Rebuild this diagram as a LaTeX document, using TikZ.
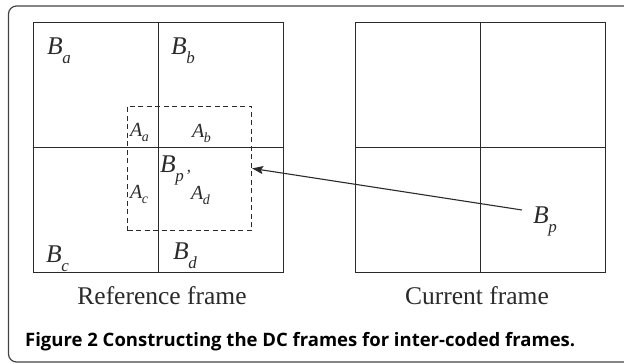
\documentclass[tikz,border=0pt]{standalone}
\usepackage{fontspec}
\setmainfont{Liberation Serif}
\newfontfamily\capfont{Open Sans}
\usetikzlibrary{arrows.meta}

\definecolor{ink}{HTML}{2A2A2A}
\definecolor{rim}{HTML}{444444}

% big block label: B with a lowered subscript
\newcommand\blk[2]{{\fontsize{25.5}{25.5}\selectfont\itshape #1\kern-0.5pt\raisebox{-9pt}{\fontsize{17}{17}\selectfont #2}}}
% smaller area label: A with a lowered subscript
\newcommand\area[2]{{\fontsize{20}{20}\selectfont\itshape #1\kern-0.5pt\raisebox{-5pt}{\fontsize{14}{14}\selectfont #2}}}

\begin{document}
\begin{tikzpicture}[x=1pt,y=-1pt,
  every node/.style={text=ink},
  lbl/.style={anchor=base west, inner sep=0pt},
  frame/.style={draw=ink, line width=1.3pt, inner sep=0pt},
  grid/.style={draw=ink, line width=1.3pt},
  window/.style={draw=ink, line width=1.1pt, dash pattern=on 5pt off 3.5pt, inner sep=0pt,
                 minimum width=124pt, minimum height=124.7pt},
  framecap/.style={anchor=base, inner sep=0pt, font=\fontsize{25.5}{25.5}\selectfont},
]
\useasboundingbox (0,0) rectangle (624,364);

% outer panel
\draw[rim, line width=1.2pt, rounded corners=8pt] (624,6) -- (8.5,6) -- (8.5,362) -- (624,362);

% reference frame with its four blocks
\node[frame, minimum width=250pt, minimum height=250pt] (ref) at (158.5,147.5) {};
\draw[grid] (ref.north) -- (ref.south);
\draw[grid] (ref.west) -- (ref.east);

% current frame with its four blocks
\node[frame, minimum width=250pt, minimum height=250pt] (cur) at (480.5,147.5) {};
\draw[grid] (cur.north) -- (cur.south);
\draw[grid] (cur.west) -- (cur.east);

% motion-compensated window in the reference frame
\node[window] (win) at (189.5,168.4) {};

% block labels
\node[lbl] (ba) at (47,54) {\blk{B}{a}};
\node[lbl] (bb) at (171,54) {\blk{B}{b}};
\node[lbl] (bc) at (46,262) {\blk{B}{c}};
\node[lbl] (bd) at (173,259) {\blk{B}{d}};
\node[lbl] (bpp) at (160,172) {\blk{B}{p\kern1pt'}};
\node[lbl] (bp) at (533,223) {\blk{B}{p}};

% overlap area labels
\node[lbl] (aa) at (130,136) {\area{A}{a}};
\node[lbl] (ab) at (192,137) {\area{A}{b}};
\node[lbl] (ac) at (130,198) {\area{A}{c}};
\node[lbl] (ad) at (191,199) {\area{A}{d}};

% motion vector
\draw[ink, line width=1.1pt, -{Stealth[length=11pt,width=8pt,inset=2pt]}]
  ([shift={(-11,-13)}]bp.base west) -- (win.east);

% frame captions
\node[framecap] (rcap) at (162,304) {Reference frame};
\node[framecap] (ccap) at (477,304) {Current frame};

% figure caption
\node[anchor=base west, inner sep=0pt, text=black,
      font=\capfont\bfseries\fontsize{18.5}{18.5}\selectfont] (fig) at (25,346)
  {Figure 2 Constructing the DC frames for inter-coded frames.};
\end{tikzpicture}
\end{document}
